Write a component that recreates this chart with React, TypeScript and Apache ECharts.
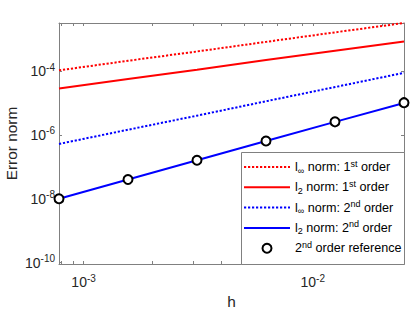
import React, { useEffect, useRef } from 'react';
import * as echarts from 'echarts';

// Mesh sizes h = 1/1280 ... 1/40
const hValues = [1 / 1280, 1 / 640, 1 / 320, 1 / 160, 1 / 80, 1 / 40];
const linfFirst = [1.05e-4, 2.1e-4, 4.1e-4, 8.2e-4, 1.63e-3, 3.2e-3];
const l2First = [2.85e-5, 5.6e-5, 1.1e-4, 2.2e-4, 4.3e-4, 8.4e-4];
const linfSecond = [5.2e-7, 1.45e-6, 4.0e-6, 1.13e-5, 3.15e-5, 8.8e-5];
const l2Second = [1.0e-8, 4.0e-8, 1.6e-7, 6.4e-7, 2.56e-6, 1.0e-5];
const refSecond = [1.0e-8, 4.0e-8, 1.6e-7, 6.4e-7, 2.56e-6, 1.02e-5];

const xRange = [1 / 1280, 1 / 40];
const yRange = [9e-11, 3.2e-3];
const xTickLabels = [1e-3, 1e-2];
const xTicks = [8e-4, 9e-4, 1e-3, 2e-3, 3e-3, 4e-3, 5e-3, 6e-3, 7e-3, 8e-3, 9e-3, 1e-2, 2e-2];
const yTickLabels = [1e-10, 1e-8, 1e-6, 1e-4];
const yTicks = [1e-10, 1e-8, 1e-6, 1e-4];

const seriesKeys = ['linf1', 'l21', 'linf2', 'l22', 'ref2'];
const legendTexts: Record<string, string> = {
  linf1: 'l{sub|∞} norm: 1{sup|st} order',
  l21: 'l{sub|2} norm: 1{sup|st} order',
  linf2: 'l{sub|∞} norm: 2{sup|nd} order',
  l22: 'l{sub|2} norm: 2{sup|nd} order',
  ref2: '2{sup|nd} order reference',
};

const FONT = '"Liberation Sans", Arial, Helvetica, sans-serif';
const AXIS_COLOR = '#808080';
const TEXT_COLOR = '#262626';

const pair = (ys: number[]) => hValues.map((h, i) => [h, ys[i]]);

const tickLabelRich = {
  b: { fontSize: 14, lineHeight: 18, color: TEXT_COLOR, fontFamily: FONT },
  s: { fontSize: 10, lineHeight: 10, verticalAlign: 'top', color: TEXT_COLOR, fontFamily: FONT },
};
const powLabel = (v: number) => `{b|10}{s|${Math.round(Math.log10(v))}}`;

export default function App() {
  const ref = useRef<HTMLDivElement>(null);
  useEffect(() => {
    if (!ref.current) return;
    const chart = echarts.init(ref.current, undefined, { renderer: 'svg' });
    const xAxisBase = {
      type: 'log',
      logBase: 10,
      min: xRange[0],
      max: xRange[1],
      gridIndex: 0,
      splitLine: { show: false },
      minorTick: { show: false },
      axisLine: { show: true, onZero: false, lineStyle: { color: AXIS_COLOR, width: 1 } },
      axisTick: { show: true, inside: true, length: 3, customValues: xTicks, lineStyle: { color: AXIS_COLOR, width: 1 } },
    };
    const yAxisBase = {
      type: 'log',
      logBase: 10,
      min: yRange[0],
      max: yRange[1],
      gridIndex: 0,
      splitLine: { show: false },
      minorTick: { show: false },
      axisLine: { show: true, onZero: false, lineStyle: { color: AXIS_COLOR, width: 1 } },
      axisTick: { show: true, inside: true, length: 3, customValues: yTicks, lineStyle: { color: AXIS_COLOR, width: 1 } },
    };
    const lineSeries = (key: string, data: number[], color: string, dotted: boolean) => ({
      name: key,
      type: 'line',
      data: pair(data),
      showSymbol: false,
      symbol: 'none',
      lineStyle: { color, width: 2, type: dotted ? [2.2, 1.8] : 'solid' },
      itemStyle: { color },
      z: 2,
    });
    chart.setOption({
      animation: false,
      backgroundColor: '#fff',
      textStyle: { fontFamily: FONT },
      grid: { left: 59, right: 9, top: 23, bottom: 46, containLabel: false, outerBoundsMode: 'none' },
      xAxis: [
        {
          ...xAxisBase,
          position: 'bottom',
          axisLabel: { customValues: xTickLabels, formatter: powLabel, margin: 9, rich: tickLabelRich },
          name: 'h',
          nameLocation: 'middle',
          nameGap: 15,
          nameTextStyle: { fontSize: 15.4, color: TEXT_COLOR, fontFamily: FONT },
        },
        { ...xAxisBase, position: 'top', axisLabel: { show: false } },
      ],
      yAxis: [
        {
          ...yAxisBase,
          position: 'left',
          axisLabel: { customValues: yTickLabels, formatter: powLabel, margin: 4, rich: tickLabelRich },
          name: 'Error norm',
          nameLocation: 'middle',
          nameGap: 40,
          nameMoveOverlap: false,
          nameTextStyle: { fontSize: 15.4, color: TEXT_COLOR, fontFamily: FONT },
        },
        { ...yAxisBase, position: 'right', axisLabel: { show: false } },
      ],
      legend: {
        orient: 'vertical',
        left: 243,
        top: 159,
        padding: 0,
        itemGap: 4.3,
        itemWidth: 46,
        itemHeight: 9,
        z: 11,
        data: seriesKeys.map((k) => (k === 'ref2' ? { name: k } : { name: k, itemStyle: { opacity: 0 } })),
        formatter: (name: string) => legendTexts[name],
        textStyle: {
          fontSize: 12.6,
          lineHeight: 16,
          color: '#000',
          fontFamily: FONT,
          rich: {
            sub: { fontSize: 9, lineHeight: 8, verticalAlign: 'bottom', color: '#000', fontFamily: FONT },
            sup: { fontSize: 9, lineHeight: 8, verticalAlign: 'top', color: '#000', fontFamily: FONT },
          },
        },
      },
      graphic: [
        {
          type: 'rect',
          z: 10,
          shape: { x: 241.5, y: 152.5, width: 163, height: 112 },
          style: { fill: '#fff', stroke: AXIS_COLOR, lineWidth: 1 },
        },
      ],
      series: [
        lineSeries('linf1', linfFirst, '#ff0000', true),
        lineSeries('l21', l2First, '#ff0000', false),
        lineSeries('linf2', linfSecond, '#0000ff', true),
        lineSeries('l22', l2Second, '#0000ff', false),
        {
          name: 'ref2',
          type: 'scatter',
          data: pair(refSecond),
          symbol: 'emptyCircle',
          symbolSize: 9,
          itemStyle: { color: '#000', borderColor: '#000', borderWidth: 2.4, opacity: 1 },
          z: 3,
        },
      ],
    });
    return () => chart.dispose();
  }, []);
  return <div ref={ref} style={{ width: 413, height: 310, position: 'absolute', left: 0, top: 0 }} />;
}
